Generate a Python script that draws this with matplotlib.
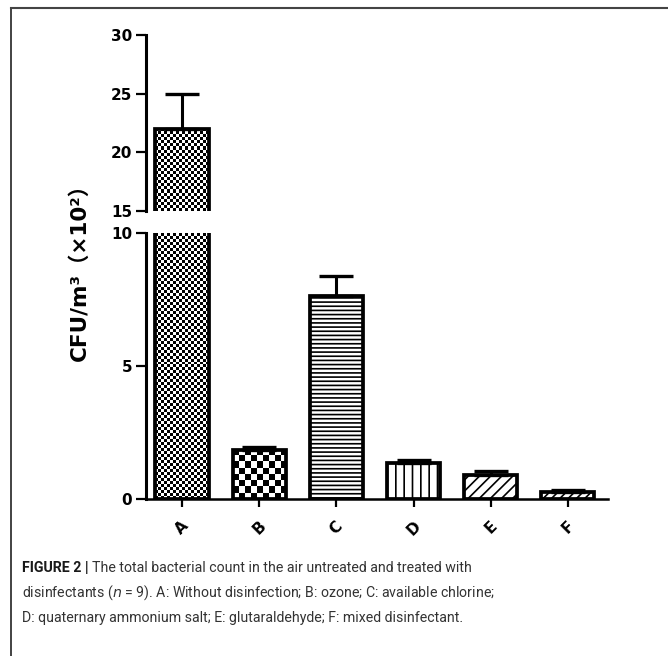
import numpy as np
import matplotlib
matplotlib.use('Agg')
import matplotlib.pyplot as plt
from matplotlib.lines import Line2D

plt.rcParams['font.family'] = ['DejaVu Sans', 'Noto Sans CJK SC']
plt.rcParams['hatch.linewidth'] = 1.2

# data (CFU/m3, x10^2)
groups = ['A', 'B', 'C', 'D', 'E', 'F']
means = [22.0, 1.85, 7.65, 1.35, 0.9, 0.25]
errs = [3.0, 0.1, 0.75, 0.12, 0.17, 0.08]
fills = ['checker_fine', 'checker_big', '----', '||', '///', '////']

W, H = 668, 656
fig = plt.figure(figsize=(W / 100, H / 100), dpi=100)

left, right = 146 / W, 608 / W
ax_top = fig.add_axes([left, 1 - 211 / H, right - left, (211 - 35) / H])
ax_bot = fig.add_axes([left, 1 - 499 / H, right - left, (499 - 233) / H])

x = np.arange(len(groups))
xlim = (-0.466, 5.52)


def checker_fill(ax, bar, cell_px):
    # checkerboard texture inside the visible part of a bar
    lo, hi = ax.get_ylim()
    x0, w = bar.get_x(), bar.get_width()
    y0 = max(bar.get_y(), lo)
    y1 = min(bar.get_y() + bar.get_height(), hi)
    if y1 <= y0:
        return
    p0 = ax.transData.transform((x0, y0))
    p1 = ax.transData.transform((x0 + w, y1))
    nx = max(1, int(round(abs(p1[0] - p0[0]) / cell_px)))
    ny = max(1, int(round(abs(p1[1] - p0[1]) / cell_px)))
    grid = np.add.outer(np.arange(ny), np.arange(nx)) % 2
    ax.imshow(grid, cmap='gray', extent=(x0, x0 + w, y0, y1),
              aspect='auto', interpolation='nearest', zorder=2)


for ax, ylim in [(ax_top, (15, 30)), (ax_bot, (0, 10))]:
    ax.set_xlim(*xlim)
    ax.set_ylim(*ylim)
    bars = ax.bar(x, means, width=0.69, facecolor='none', edgecolor='black',
                  linewidth=2.7, zorder=3)
    for b, f in zip(bars, fills):
        if f == 'checker_fine':
            checker_fill(ax, b, 3)
        elif f == 'checker_big':
            checker_fill(ax, b, 6)
        else:
            b.set_hatch(f)
    ax.errorbar(x, means, yerr=[np.zeros(len(errs)), errs], fmt='none',
                ecolor='black', elinewidth=2.2, capsize=12, capthick=2.4,
                zorder=2.5)
    ax.set_xlim(*xlim)
    ax.set_ylim(*ylim)
    for s in ['top', 'right']:
        ax.spines[s].set_visible(False)
    ax.spines['left'].set_linewidth(2.2)
    ax.tick_params(axis='y', direction='out', length=7, width=1.6, pad=3,
                   labelsize=11)

ax_top.spines['bottom'].set_visible(False)
ax_top.set_xticks([])
ax_top.set_yticks([15, 20, 25, 30])
ax_bot.set_yticks([0, 5, 10])
for lab in ax_top.get_yticklabels() + ax_bot.get_yticklabels():
    lab.set_fontweight('bold')

ax_bot.spines['bottom'].set_linewidth(1.8)
ax_bot.set_xticks(x)
ax_bot.set_xticklabels(groups, rotation=45, ha='center', va='top',
                       fontweight='bold', fontsize=11)
ax_bot.tick_params(axis='x', direction='out', length=6, width=1.6, pad=8)

fig.text(79 / W, 1 - 267 / H, 'CFU/m³（×10²）', rotation=90, ha='center',
         va='center', fontsize=15.5, fontweight='bold')

# frame of the figure panel
fig.add_artist(Line2D([11 / W, 11 / W], [0, 1 - 8 / H], transform=fig.transFigure,
                      color='#222222', lw=1.2))
fig.add_artist(Line2D([11 / W, 1], [1 - 8 / H, 1 - 8 / H], transform=fig.transFigure,
                      color='#444444', lw=1.5))

# caption
cap_font = ['Roboto', 'DejaVu Sans']
cap_col = '#333333'
cap_size = 10.2
renderer = fig.canvas.get_renderer()
head = fig.text(22 / W, 1 - 568 / H, 'FIGURE 2 |', fontsize=cap_size,
                fontweight='bold', color='#1a1a1a', family=cap_font, va='center')
hx = head.get_window_extent(renderer).x1
fig.text((hx + 4) / W, 1 - 568 / H,
         'The total bacterial count in the air untreated and treated with',
         fontsize=cap_size, color=cap_col, family=cap_font, va='center')
fig.text(22 / W, 1 - 593 / H,
         'disinfectants ($n$ = 9). A: Without disinfection; B: ozone; C: available chlorine;',
         fontsize=cap_size, color=cap_col, family=cap_font, va='center')
fig.text(22 / W, 1 - 618 / H,
         'D: quaternary ammonium salt; E: glutaraldehyde; F: mixed disinfectant.',
         fontsize=cap_size, color=cap_col, family=cap_font, va='center')

fig.savefig('out.png', dpi=100)
